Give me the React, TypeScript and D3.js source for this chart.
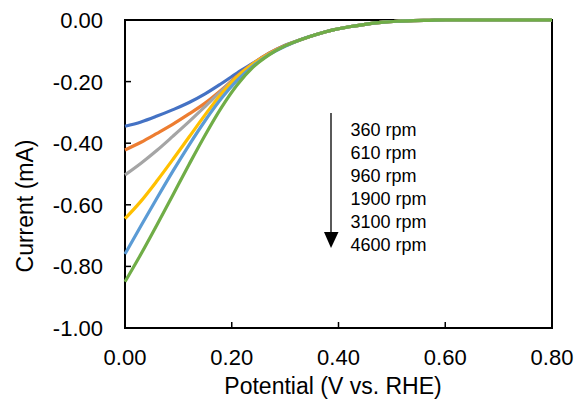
import React from 'react'
import * as d3 from 'd3'

// potential (V vs. RHE) sampled points
const potential = [0, 0.03, 0.06, 0.09, 0.12, 0.15, 0.18, 0.21, 0.24, 0.27, 0.30, 0.33, 0.36, 0.39, 0.42, 0.45, 0.48, 0.51, 0.54, 0.57, 0.60, 0.70, 0.80]

// shared tail above 0.30 V
const tail = [-0.063, -0.046, -0.032, -0.022, -0.014, -0.008, -0.004, -0.002, -0.001, 0, 0, 0]

const rpm360 = [-0.345, -0.331, -0.312, -0.291, -0.268, -0.24, -0.207, -0.172, -0.14, -0.108, -0.082, ...tail]
const rpm610 = [-0.422, -0.397, -0.368, -0.338, -0.305, -0.27, -0.228, -0.182, -0.141, -0.108, -0.083, ...tail]
const rpm960 = [-0.503, -0.465, -0.423, -0.377, -0.33, -0.281, -0.231, -0.184, -0.142, -0.11, -0.084, ...tail]
const rpm1900 = [-0.645, -0.588, -0.522, -0.452, -0.38, -0.308, -0.241, -0.185, -0.143, -0.11, -0.084, ...tail]
const rpm3100 = [-0.76, -0.668, -0.578, -0.49, -0.406, -0.327, -0.256, -0.196, -0.149, -0.112, -0.085, ...tail]
const rpm4600 = [-0.85, -0.76, -0.665, -0.567, -0.469, -0.374, -0.286, -0.211, -0.153, -0.113, -0.084, ...tail]

const seriesNames = ['360 rpm', '610 rpm', '960 rpm', '1900 rpm', '3100 rpm', '4600 rpm']
const seriesValues = [rpm360, rpm610, rpm960, rpm1900, rpm3100, rpm4600]
const colors = ['#4472C4', '#ED7D31', '#A5A5A5', '#FFC000', '#5B9BD5', '#70AD47']

const xTicks = [0, 0.2, 0.4, 0.6, 0.8]
const yTicks = [0, -0.2, -0.4, -0.6, -0.8, -1.0]

const W = 579
const H = 400
const margin = { left: 125, right: 27, top: 20, bottom: 72 }
const font = '"Liberation Sans", Arial, sans-serif'

export default function App() {
  const x = d3.scaleLinear().domain([0, 0.8]).range([margin.left, W - margin.right])
  const y = d3.scaleLinear().domain([-1, 0]).range([H - margin.bottom, margin.top])

  const line = d3.line<number>()
    .x((_, i) => x(potential[i]))
    .y(d => y(d))
    .curve(d3.curveMonotoneX)

  const [x0, x1] = x.range()
  const [y0, y1] = y.range()

  return (
    <svg width={W} height={H} style={{ position: 'absolute', left: 0, top: 0 }} fontFamily={font}>
      <rect width={W} height={H} fill="#fff" />
      {/* y ticks and labels */}
      {yTicks.map(t => (
        <g key={'y' + t}>
          <line x1={x0} x2={x0 + 6} y1={y(t)} y2={y(t)} stroke="#000" strokeWidth={1.5} />
          <text x={103} y={y(t) + 8} textAnchor="end" fontSize={22} fill="#000">{t.toFixed(2)}</text>
        </g>
      ))}
      {/* x ticks and labels */}
      {xTicks.map(t => (
        <g key={'x' + t}>
          <line x1={x(t)} x2={x(t)} y1={y0} y2={y0 - 6} stroke="#000" strokeWidth={1.5} />
          <text x={x(t)} y={365} textAnchor="middle" fontSize={22} fill="#000">{t.toFixed(2)}</text>
        </g>
      ))}
      {/* plot frame */}
      <rect x={x0} y={y1} width={x1 - x0} height={y0 - y1} fill="none" stroke="#000" strokeWidth={2} />

      {seriesValues.map((vals, i) => (
        <path key={seriesNames[i]} d={line(vals) || ''} fill="none" stroke={colors[i]} strokeWidth={3.2} strokeLinejoin="round" />
      ))}

      {/* rotation speed annotation */}
      <line x1={331} x2={331} y1={113} y2={234} stroke="#000" strokeWidth={1.3} />
      <polygon points="324,232 338.5,232 331,248" fill="#000" />
      {seriesNames.map((n, i) => (
        <text key={n} x={350.5} y={136 + i * 22.9} fontSize={18} fill="#000">{n}</text>
      ))}

      <text x={333} y={394} textAnchor="middle" fontSize={23} fill="#000">Potential (V vs. RHE)</text>
      <text transform={`translate(33,206) rotate(-90)`} textAnchor="middle" fontSize={23} fill="#000">Current (mA)</text>
    </svg>
  )
}
